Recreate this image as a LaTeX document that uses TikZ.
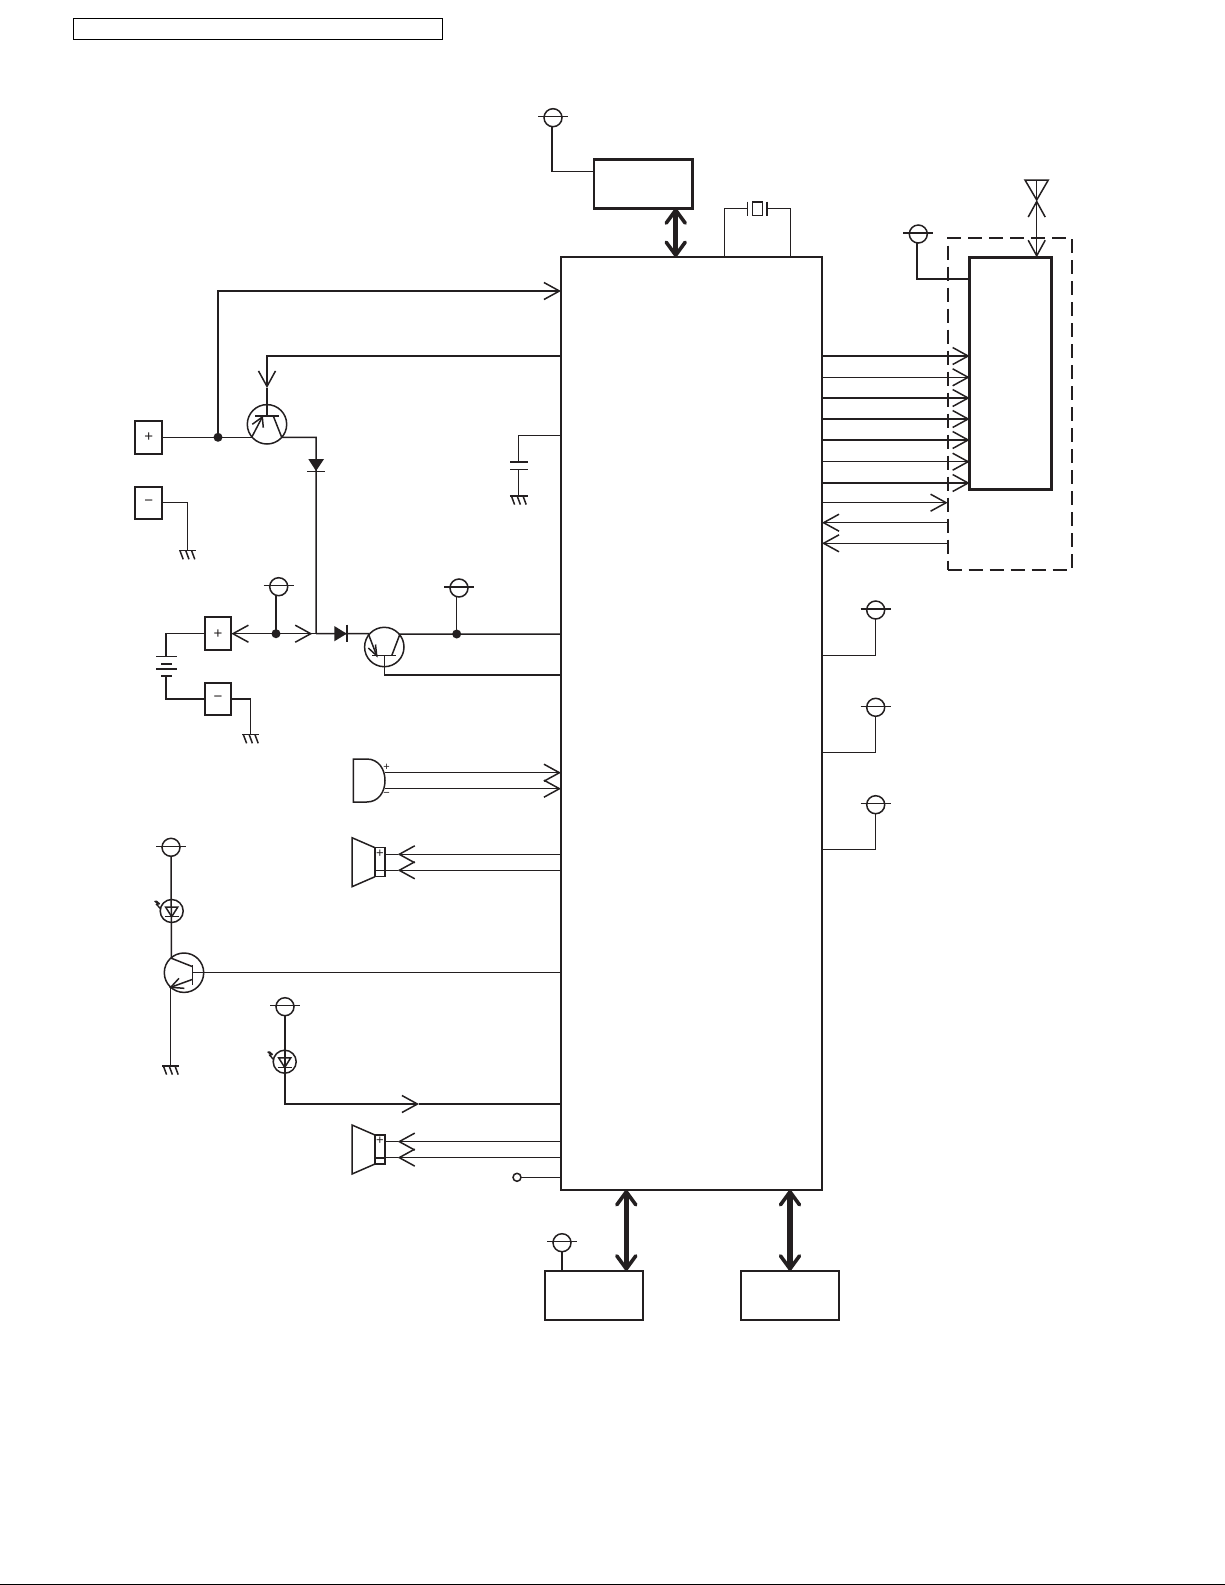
\documentclass[tikz,border=0pt]{standalone}
\usepackage{fontspec}
\setmainfont{Liberation Sans}
\usetikzlibrary{arrows.meta}
\definecolor{ink}{HTML}{231F20}
\tikzset{
  wire/.style={draw=ink,line width=1.5pt},
  thinbox/.style={draw=ink,line width=1.8pt,inner sep=0pt,outer sep=0pt,rectangle},
  fatbox/.style={draw=ink,line width=2.8pt,inner sep=0pt,outer sep=0pt,rectangle},
  pmbox/.style={thinbox,minimum width=26.7pt,minimum height=32.7pt,font=\fontsize{15}{15}\selectfont,text=ink},
  bus/.style={draw=ink,line width=5.5pt,{Straight Barb[length=13pt,width=19pt,line width=3.6pt,round]}-{Straight Barb[length=13pt,width=19pt,line width=3.6pt,round]}},
  vcccircle/.style={draw=ink,line width=1.5pt,circle,minimum size=18pt,inner sep=0pt,outer sep=0pt},
  qcircle/.style={draw=ink,line width=1.5pt,circle,minimum size=39.4pt,inner sep=0pt,outer sep=0pt},
  ledcircle/.style={draw=ink,line width=1.5pt,circle,minimum size=23pt,inner sep=0pt,outer sep=0pt},
  dot/.style={fill=ink,circle,minimum size=9pt,inner sep=0pt,outer sep=0pt},
  sign/.style={inner sep=0pt,outer sep=0pt,text=ink,font=\fontsize{13}{13}\selectfont},
  >={Straight Barb[length=15.5pt,width=17pt]},
}
% supply symbol: name, circle centre x, y
\newcommand\vccsym[3]{%
  \node[vcccircle] (#1) at (#2,#3) {};
  \draw[wire] ([xshift=-15pt,yshift=1pt]#1.center) -- ([xshift=15pt,yshift=1pt]#1.center);
}
% ground symbol: name, x, y, half width
\newcommand\gndsym[4]{%
  \coordinate (#1) at (#2,#3);
  \draw[wire] ([xshift=-#4pt]#1) -- ([xshift=#4pt]#1);
  \foreach \dd in {-1,0,1} {
    \draw[wire] ([xshift=\dd*5.8pt-1.5pt]#1) -- ([xshift=\dd*5.8pt+1.7pt,yshift=-8.6pt]#1);
  }
}
% LED: name, x, y
\newcommand\ledsym[3]{%
  \node[ledcircle] (#1) at (#2,#3) {};
  \draw[wire] ([xshift=-6pt,yshift=3.8pt]#1.center) -- ([xshift=6pt,yshift=3.8pt]#1.center) -- ([yshift=-5.7pt]#1.center) -- cycle;
  \draw[wire] ([xshift=-6.8pt,yshift=-5.7pt]#1.center) -- ([xshift=6.8pt,yshift=-5.7pt]#1.center);
  \draw[draw=ink,line width=1.4pt] ([xshift=-17pt,yshift=10pt]#1.center) -- ([xshift=-13.5pt,yshift=7pt]#1.center) -- ([xshift=-15pt,yshift=6.5pt]#1.center) -- ([xshift=-11pt,yshift=2pt]#1.center);
  \draw[draw=ink,line width=1.4pt] ([xshift=-15.5pt,yshift=10pt]#1.center) -- ([xshift=-12pt,yshift=7pt]#1.center);
}
% speaker: name, y offset
\newcommand\spksym[2]{%
  \node[draw=ink,line width=1.5pt,rectangle,minimum width=10pt,minimum height=29pt,inner sep=0pt,outer sep=0pt] (#1) at (380,#2+862.2) {};
  \draw[wire,line join=miter] (#1.north west) -- (352,#2+837.7) -- (352,#2+886.7) -- (#1.south west);
  \node[sign] at (380,#2+853.6) {+};
  \draw[wire] (#1.west |- 0,#2+870.5) -- (#1.east |- 0,#2+870.5);
  \draw[wire,->] (ic.west |- 0,#2+854.3) -- (397.7,#2+854.3);
  \draw[wire] (397.7,#2+854.3) -- (#1.east |- 0,#2+854.3);
  \draw[wire,->] (ic.west |- 0,#2+870.3) -- (397.7,#2+870.3);
  \draw[wire] (397.7,#2+870.3) -- (#1.east |- 0,#2+870.3);
}
\begin{document}
\begin{tikzpicture}[x=1pt,y=-1pt]
\useasboundingbox (0,0) rectangle (1225,1585);
\fill[white] (0,0) rectangle (1225,1585);

% page furniture
\node[draw=black,line width=1.1pt,rectangle,minimum width=369.4pt,minimum height=21pt,inner sep=0pt,outer sep=0pt] (title) at (258,28.8) {};
\coordinate (pageL) at (0,1584.3);
\coordinate (pageR) at (1225,1584.3);
\draw[black,line width=1.3pt] (pageL) -- (pageR);

% main blocks
\node[fatbox,minimum width=261pt,minimum height=933pt] (ic) at (691.5,723.5) {};
\node[fatbox,line width=2.6pt,minimum width=98.7pt,minimum height=49pt] (topbox) at (643.4,183.8) {};
\node[fatbox,minimum width=81.6pt,minimum height=232pt] (rf) at (1010.5,373.3) {};
\node[thinbox,minimum width=98.3pt,minimum height=49.3pt] (boxA) at (593.8,1295.3) {};
\node[thinbox,minimum width=98.3pt,minimum height=49.3pt] (boxB) at (789.8,1295.3) {};
\node[draw=ink,line width=2pt,dash pattern=on 14pt off 7pt,rectangle,inner sep=0pt,outer sep=0pt,minimum width=124.3pt,minimum height=331.7pt] (shield) at (1009.8,403.8) {};

% top block and crystal
\vccsym{vTop}{553}{117.7}
\draw[wire] ([xshift=-1pt]vTop.south) |- (topbox.west |- 0,171.5);
\draw[bus] (topbox.south -| 675.7,0) -- (ic.north -| 675.7,0);
\coordinate (xtalL) at (747.7,208.7);
\coordinate (xtalR) at (767,208.7);
\draw[wire] (ic.north -| 724.3,0) |- (xtalL);
\draw[wire] (ic.north -| 790.3,0) |- (xtalR);
\draw[wire] ([yshift=7pt]xtalL) -- ([yshift=-7pt]xtalL);
\draw[wire] ([yshift=7pt]xtalR) -- ([yshift=-7pt]xtalR);
\node[draw=ink,line width=1.5pt,rectangle,minimum width=10.4pt,minimum height=13.5pt,inner sep=0pt,outer sep=0pt] (xtal) at (757.5,208.7) {};

% RF block
\vccsym{vRf}{918.3}{234}
\draw[wire] ([xshift=-1.3pt]vRf.south) |- (rf.west |- 0,279);
\foreach \yy in {356,377.3,398,419,440,461.7,483} {
  \draw[wire,->] (ic.east |- 0,\yy) -- (rf.west |- 0,\yy);
}
\draw[wire,->] (ic.east |- 0,502.7) -- (shield.west |- 0,502.7);
\draw[wire,->] (shield.west |- 0,522.7) -- (ic.east |- 0,522.7);
\draw[wire,->] (shield.west |- 0,543.3) -- (ic.east |- 0,543.3);
\coordinate (antApex) at (1036.7,200);
\coordinate (antL) at (1025,180);
\coordinate (antR) at (1048.3,180);
\coordinate (antT) at (1036.7,180);
\draw[wire,line join=miter] (antL) -- (antR) -- (antApex) -- cycle;
\draw[wire] (antT) -- (antApex);
\draw[wire,<->] (antApex) -- (rf.north -| antApex);

% right-hand supplies
\vccsym{vR1}{875.7}{610}
\vccsym{vR2}{875.7}{707.3}
\vccsym{vR3}{875.7}{804.7}
\draw[wire] (ic.east |- 0,655.3) -| (vR1.south);
\draw[wire] (ic.east |- 0,752.7) -| (vR2.south);
\draw[wire] (ic.east |- 0,849.3) -| (vR3.south);

% upper input: connector and transistor Q1
\node[pmbox] (plusA) at (148.7,437.6) {+};
\node[pmbox] (minusA) at (148.7,503) {−};
\node[dot] (jA) at (218,437.3) {};
\node[qcircle] (q1) at (267,424.3) {};
\coordinate (q1base) at (267,416);
\coordinate (q1colL) at (251.7,437.3);
\coordinate (q1tip) at (262.3,417);
\coordinate (q1emL) at (273.3,416);
\coordinate (q1emR) at (281.7,437.3);
\coordinate (q1barb) at (267,388);
\coordinate (railTop) at (316,437.3);
\coordinate (railBot) at (316,633.7);
\draw[wire] (plusA.east |- jA) -- (q1colL);
\draw[wire,->] (jA.center) |- (ic.west |- 0,291);
\draw[wire,->] (ic.west |- 0,356) -| (q1barb);
\draw[wire] (q1barb) -- (q1base);
\draw[wire] ([xshift=-12pt]q1base) -- ([xshift=12pt]q1base);
\draw[wire] (q1colL) -- (q1tip);
\draw[wire] (252.3,424.3) -- (q1tip) -- (263.3,427.7);
\draw[wire] (q1emL) -- (q1emR) -- (railTop) -- (railBot);
\fill[ink] (308.3,459) -- (324,459) -- (316,471) -- cycle;
\draw[wire] (307.3,471.7) -- (325,471.7);
\gndsym{gA}{187.3}{550.7}{8.5}
\draw[wire] (minusA.east |- 0,502.3) -| (gA);

% capacitor
\coordinate (capT) at (518.7,462);
\coordinate (capB) at (518.7,469.3);
\draw[wire] (ic.west |- 0,435.7) -| (capT);
\draw[wire] (510,462) -- (527.7,462);
\draw[wire] (510,469.3) -- (527.7,469.3);
\gndsym{gC}{518.7}{496}{8.8}
\draw[wire] (capB) -- (gC);

% battery
\node[pmbox] (plusB) at (218,633.7) {+};
\node[pmbox] (minusB) at (218,699) {−};
\coordinate (batT) at (166,656.7);
\coordinate (batB) at (166,675.7);
\draw[wire] (plusB.west) -| (batT);
\draw[wire] (minusB.west) -| (batB);
\draw[wire] (156,656.7) -- (176.7,656.7);
\draw[draw=ink,line width=2pt] (161,663.7) -- (171.5,663.7);
\draw[wire] (156,669) -- (176.7,669);
\draw[draw=ink,line width=2pt] (161,675.7) -- (171.5,675.7);
\gndsym{gB}{250.7}{734.7}{8.5}
\draw[wire] (minusB.east) -| (gB);

\node[dot] (jB) at (276,633.7) {};
\vccsym{vB}{278.7}{586.7}
\draw[wire] (jB.center) -- (jB.center |- vB.south);
\draw[wire,->] (jB.center) -- (plusB.east);
\draw[wire,->] (jB.center) -- ([xshift=-3.7pt]railBot);
\draw[wire] (jB.center) -- (railBot);

% diode and transistor Q2
\node[qcircle] (q2) at (384.3,647) {};
\coordinate (q2colL) at (368.3,633.7);
\coordinate (q2tip) at (376.7,655.7);
\coordinate (q2base) at (384.3,655.7);
\coordinate (q2R) at (400,634);
\coordinate (q2T) at (391.7,655.7);
\draw[wire] (railBot) -- (q2colL) -- (q2tip);
\fill[ink] (334.3,626) -- (334.3,641.3) -- (346.7,633.7) -- cycle;
\draw[wire] (347,624.7) -- (347,642.4);
\draw[wire] (368.3,648) -- (q2tip) -- (375.5,644.5);
\draw[wire] ([xshift=-12pt]q2base) -- ([xshift=12pt]q2base);
\draw[wire] (q2T) -- (q2R) -- (ic.west |- q2R);
\draw[wire] (q2base) |- (ic.west |- 0,674.9);
\node[dot] (jC) at (456.7,634) {};
\vccsym{vC}{459}{588}
\draw[wire] (jC.center) -- (jC.center |- vC.south);

% microphone
\coordinate (micP) at (385,772.7);
\coordinate (micM) at (385,788.7);
\draw[wire,line join=miter] (353.3,759) -- (366.7,759) .. controls (378.5,759) and (385,769) .. (385,780.5) .. controls (385,792) and (378.5,802) .. (366.7,802) -- (353.3,802) -- cycle;
\node[sign,font=\fontsize{11}{11}\selectfont] (micPlus) at (386.6,767.3) {+};
\node[sign,font=\fontsize{11}{11}\selectfont] (micMinus) at (386.6,794.6) {−};
\draw[wire,->] (micP) -- (ic.west |- micP);
\draw[wire,->] (micM) -- (ic.west |- micM);

% speakers
\spksym{spkA}{0}
\spksym{spkB}{287.3}

% LED and driver Q3
\vccsym{vD}{171}{847.3}
\ledsym{ledA}{171.7}{911}
\node[qcircle] (q3) at (184,972.7) {};
\coordinate (q3b) at (192.7,972.7);
\coordinate (q3up) at (171.5,958.3);
\coordinate (q3dn) at (170.7,987.3);
\draw[wire] (vD.south) -- (q3up) -- (192.7,966.7);
\draw[wire] (192.7,965) -- (192.7,985);
\draw[wire] (q3b) -- (ic.west |- q3b);
\draw[wire] (192.7,979.3) -- (q3dn);
\draw[wire] (184.3,988.3) -- (q3dn) -- (179,978.3);
\gndsym{gD}{170.7}{1066}{8.5}
\draw[wire] (q3dn) -- (gD);

% second LED
\vccsym{vE}{285}{1006.7}
\ledsym{ledB}{284.7}{1061.7}
\coordinate (ledTip) at (419,1104);
\draw[wire,->] (vE.south) |- (ledTip);
\draw[wire] (ledTip) -- (ic.west |- ledTip);

% test point
\node[draw=ink,line width=1.5pt,circle,minimum size=8pt,inner sep=0pt,outer sep=0pt] (tp) at (517,1177.3) {};
\draw[wire] (tp) -- (ic.west |- tp);

% memory blocks
\vccsym{vM}{562}{1242.7}
\draw[wire] (vM.south) -- (boxA.north -| vM.south);
\draw[bus] (ic.south -| 626.3,0) -- (boxA.north -| 626.3,0);
\draw[bus] (ic.south -| 790,0) -- (boxB.north -| 790,0);
\end{tikzpicture}
\end{document}
